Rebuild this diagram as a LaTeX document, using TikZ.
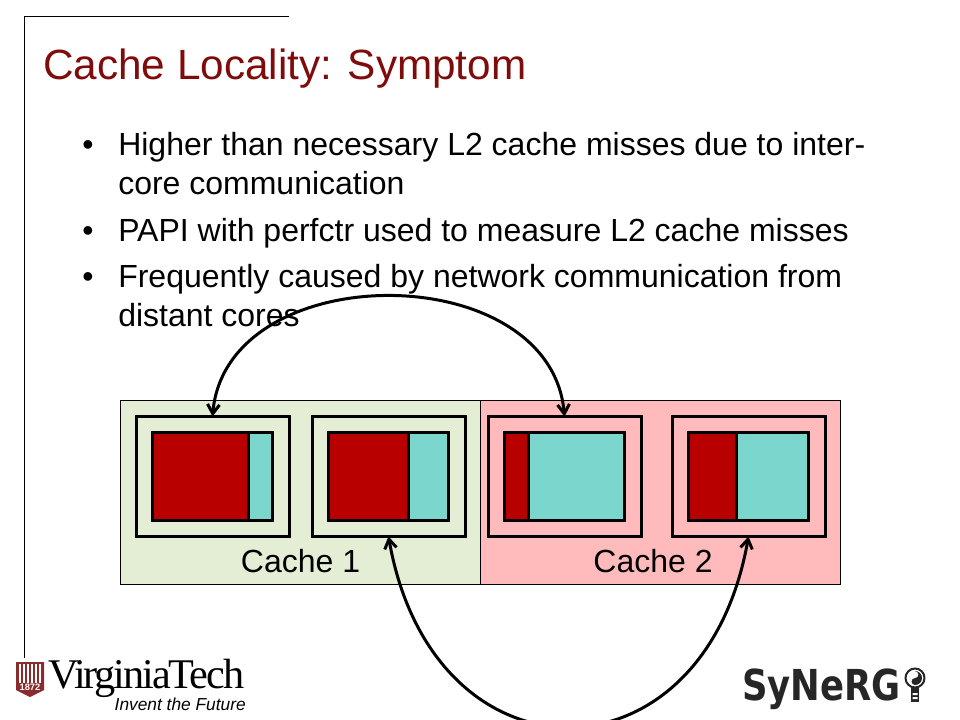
\documentclass[tikz,border=0pt]{standalone}
\usepackage{fontspec}
\setmainfont{Liberation Sans}
\newfontfamily\vtfont{Liberation Serif}[LetterSpace=-5]
\newfontfamily\synfont{DejaVu Sans}[FakeStretch=0.83]
\usetikzlibrary{positioning, arrows.meta}

\definecolor{titlered}{HTML}{7F0B0B}
\definecolor{corered}{HTML}{B80000}
\definecolor{coreteal}{HTML}{7BD6CD}
\definecolor{cachegreen}{HTML}{E4EED4}
\definecolor{cachepink}{HTML}{FFBBBB}
\definecolor{vtmaroon}{HTML}{8C2B2B}

\begin{document}
\begin{tikzpicture}[
x=0.75pt, y=-0.75pt,
titletext/.style={anchor=base west, inner sep=0pt, text=titlered,
  font=\fontsize{31.7}{36}\selectfont},
bodytext/.style={anchor=base west, inner sep=0pt,
  font=\fontsize{24}{28}\selectfont},
cachebox/.style={rectangle, draw=black, line width=0.6pt, outer sep=0pt,
  minimum width=270pt, minimum height=138pt},
cachelabel/.style={anchor=base, inner sep=0pt,
  font=\fontsize{24}{28}\selectfont},
corebox/.style={rectangle, draw=black, line width=2.25pt, outer sep=0pt,
  minimum width=114.75pt, minimum height=90pt},
redpart/.style={rectangle, draw=black, fill=corered, line width=2.25pt,
  outer sep=0pt, minimum height=66pt, anchor=west},
tealpart/.style={rectangle, draw=black, fill=coreteal, line width=2.25pt,
  outer sep=0pt, minimum height=66pt},
comm/.style={<->, line width=2.25pt, black},
>={Straight Barb[length=7pt,width=9pt]}
]
\useasboundingbox (0,0) rectangle (960,720);

% frame lines
\draw[line width=0.75pt] (289,16.5) -- (24.5,16.5) -- (24.5,658);

\node[titletext] (title) at (43,80) {Cache Locality: Symptom};

\node[bodytext] (b1) at (82,156) {•};
\node[bodytext] (l1) at (118,156) {Higher than necessary L2 cache misses due to inter-};
\node[bodytext] (l1b) at (118,195) {core communication};
\node[bodytext] (b2) at (82,242) {•};
\node[bodytext] (l2) at (118,242) {PAPI with perfctr used to measure L2 cache misses};
\node[bodytext] (b3) at (82,287) {•};
\node[bodytext] (l3) at (118,287) {Frequently caused by network communication from};
\node[bodytext] (l3b) at (118,326) {distant cores};

% caches
\node[cachebox, fill=cachegreen] (cache1) at (300,492) {};
\node[cachebox, fill=cachepink] (cache2) at (660,492) {};
\node[cachelabel] (label1) at (300.5,572) {Cache 1};
\node[cachelabel] (label2) at (653,572) {Cache 2};

% cores
\node[corebox] (core1) at (212.5,476.5) {};
\node[corebox] (core2) at (388.5,476.5) {};
\node[corebox] (core3) at (564.5,476.5) {};
\node[corebox] (core4) at (748.5,476.5) {};

\node[redpart, minimum width=72pt] (red1) at (152,476) {};
\node[tealpart, minimum width=18pt, right=0pt of red1] (teal1) {};
\node[redpart, minimum width=60pt] (red2) at (328,476) {};
\node[tealpart, minimum width=30pt, right=0pt of red2] (teal2) {};
\node[redpart, minimum width=18pt] (red3) at (504,476) {};
\node[tealpart, minimum width=72pt, right=0pt of red3] (teal3) {};
\node[redpart, minimum width=36pt] (red4) at (688,476) {};
\node[tealpart, minimum width=54pt, right=0pt of red4] (teal4) {};

% communication
\draw[comm] (core1.north) to[out=85,in=95,looseness=1.17] (core3.north);
\draw[comm] (core2.south) to[out=-80,in=-100,looseness=1.83] (core4.south);

% Virginia Tech logo
\fill[vtmaroon] (16,662) -- (44,662) -- (44,690) -- (30,697) -- (16,690) -- cycle;
\foreach \barx in {20,24,28,32,36,40}
  \fill[white] (\barx-0.8,664) rectangle (\barx+0.8,683);
\node[inner sep=0pt, text=white, font=\bfseries\fontsize{7}{8}\selectfont] (shieldyear) at (30,687.5) {1872};
\node[anchor=base west, inner sep=0pt, font=\vtfont\fontsize{31.7}{34}\selectfont] (vtname) at (48,688) {VirginiaTech};
\node[anchor=base east, inner sep=0pt, font=\itshape\fontsize{13}{15}\selectfont] (vtmotto) at (246,710) {Invent the Future};

% SyNeRG logo
\node[anchor=base west, inner sep=0pt, text=black!85, font=\synfont\bfseries\fontsize{32}{36}\selectfont] (synerg) at (742,700) {SyNeRG};
\fill[black!85] (911,686) rectangle (919,702);
\fill[white] (912.5,693) rectangle (917.5,695) (912.5,697) rectangle (917.5,699);
\draw[line width=1.5pt, black!85, fill=white] (915,678) circle (9.5);
\fill[black!85] (915,671) arc[start angle=90, end angle=-90, radius=5.25pt]
  arc[start angle=-90, end angle=-270, radius=2.6pt]
  arc[start angle=-90, end angle=90, radius=2.6pt] -- cycle;
\fill[white] (915,674.5) circle (1);
\fill[black!85] (915,681.5) circle (1);
\end{tikzpicture}
\end{document}
